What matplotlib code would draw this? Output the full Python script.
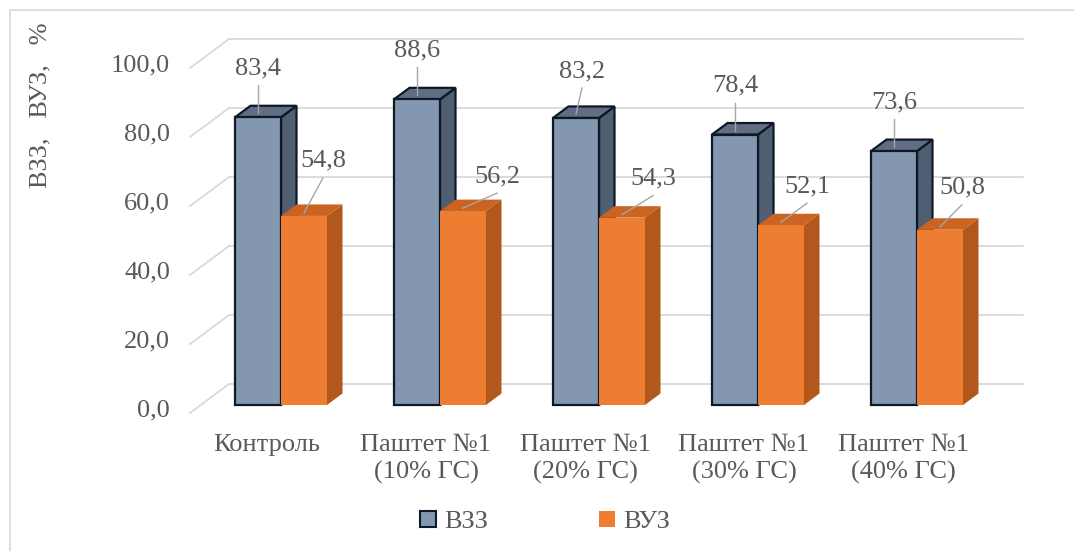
import matplotlib
matplotlib.use("Agg")
import matplotlib.pyplot as plt
from matplotlib.patches import Polygon, Patch, Rectangle

# Data
categories = ["Контроль", "Паштет №1\n(10% ГС)", "Паштет №1\n(20% ГС)",
              "Паштет №1\n(30% ГС)", "Паштет №1\n(40% ГС)"]
vzz = [83.4, 88.6, 83.2, 78.4, 73.6]
vuz = [54.8, 56.2, 54.3, 52.1, 50.8]
y_ticks = [0, 20, 40, 60, 80, 100]
series_names = ["ВЗЗ", "ВУЗ"]

plt.rcParams['font.family'] = ['Liberation Serif', 'DejaVu Serif']

TEXT = "#595959"
GRID = "#D9D9D9"
BLUE = ("#8497B0", "#5F6E84", "#505E72")      # front, top, side
ORANGE = ("#ED7D31", "#CB6420", "#B3581C")
FS = 19

W, H = 1074, 551
fig = plt.figure(figsize=(W / 100, H / 100), dpi=100)

# pixel layout of the plot
X0, XS = 281, 159      # first group centre, spacing between groups
Y0, YS = 405, 3.45     # zero line on bar fronts, pixels per percent
left_px, right_px, top_px, bottom_px = 150, 1060, 20, 430

ax = fig.add_axes([left_px / W, 1 - bottom_px / H,
                   (right_px - left_px) / W, (bottom_px - top_px) / H])
ax.set_xlim((left_px - X0) / XS, (right_px - X0) / XS)
ax.set_ylim((Y0 - bottom_px) / YS, (Y0 - top_px) / YS)
ax.axis("off")


def px_x(p):
    return p / XS


def px_y(p):
    return p / YS


bar_w = px_x(46)
depth_x, depth_y = px_x(15.5), px_y(11.5)

# back wall gridlines and floor diagonals
wall_x0, wall_x1 = (229 - X0) / XS, (1023 - X0) / XS
front_x = (190 - X0) / XS
for v in y_ticks:
    yb = v + px_y(21)
    yf = v - px_y(8)
    ax.plot([wall_x0, wall_x1], [yb, yb], color=GRID, lw=1.3, zorder=1)
    ax.plot([front_x, wall_x0], [yf, yb], color=GRID, lw=1.3, zorder=1)
    ax.text((170 - X0) / XS, v - px_y(5), f"{v:.1f}".replace(".", ","),
            ha="right", va="center", fontsize=FS, color=TEXT)


def bar3d(x0, v, colors, edge):
    x1 = x0 + bar_w
    front = [(x0, 0), (x1, 0), (x1, v), (x0, v)]
    side = [(x1, 0), (x1 + depth_x, depth_y), (x1 + depth_x, v + depth_y), (x1, v)]
    top = [(x0, v), (x1, v), (x1 + depth_x, v + depth_y), (x0 + depth_x, v + depth_y)]
    kw = dict(edgecolor=edge if edge else "none", lw=1.6 if edge else 0,
              joinstyle="miter", zorder=3)
    ax.add_patch(Polygon(side, closed=True, facecolor=colors[2], **kw))
    ax.add_patch(Polygon(top, closed=True, facecolor=colors[1], **kw))
    ax.add_patch(Polygon(front, closed=True, facecolor=colors[0], **kw))


# label offsets in pixels (dx from bar centre, dy above bar top)
blue_lbl = [(0, 49), (0, 49), (6, 47), (0, 49), (0, 49)]
orange_lbl = [(19, 55), (34, 35), (31, 39), (26, 39), (22, 42)]

for i, (a, b) in enumerate(zip(vzz, vuz)):
    bar3d(i - bar_w, a, BLUE, "#0F1826")
    bar3d(i, b, ORANGE, None)

    # blue value label with leader
    cx = i - bar_w / 2
    lx, ly = cx + px_x(blue_lbl[i][0]), a + px_y(blue_lbl[i][1])
    ax.text(lx, ly, f"{a:.1f}".replace(".", ","), ha="center", va="center",
            fontsize=FS, color=TEXT, zorder=5)
    ax.plot([lx, cx], [ly - px_y(17), a + px_y(4)], color="#A6A6A6", lw=1, zorder=4)

    # orange value label with leader
    cx = i + bar_w / 2
    lx, ly = cx + px_x(orange_lbl[i][0]), b + px_y(orange_lbl[i][1])
    ax.text(lx, ly, f"{b:.1f}".replace(".", ","), ha="center", va="center",
            fontsize=FS, color=TEXT, zorder=5)
    ax.plot([lx, cx], [ly - px_y(17), b + px_y(3)], color="#A6A6A6", lw=1, zorder=4)

    # category label
    ax.text(i - px_x(14), px_y(Y0 - 434), categories[i], ha="center", va="top",
            fontsize=FS, color=TEXT, linespacing=1.3)

# axis title
fig.text(40 / W, 1 - 105 / H, "ВЗЗ,   ВУЗ,   %", rotation=90, ha="center",
         va="center", fontsize=FS, color=TEXT)

handles = [Patch(facecolor=BLUE[0], edgecolor="#0F1826", lw=1.5),
           Patch(facecolor=ORANGE[0], edgecolor="none")]
fig.legend(handles, series_names, loc="center", ncol=2, frameon=False,
           bbox_to_anchor=(545 / W, 1 - 522 / H), fontsize=FS,
           labelcolor=TEXT, handlelength=0.6, handleheight=0.6,
           handletextpad=0.3, columnspacing=4.2)

# chart frame
fig.patches.append(Rectangle((10 / W, -0.05), 1.2, 1.05 - 10 / H,
                             transform=fig.transFigure, fill=False,
                             edgecolor=GRID, lw=1.2))

fig.savefig("out.png", dpi=100, facecolor="white")
